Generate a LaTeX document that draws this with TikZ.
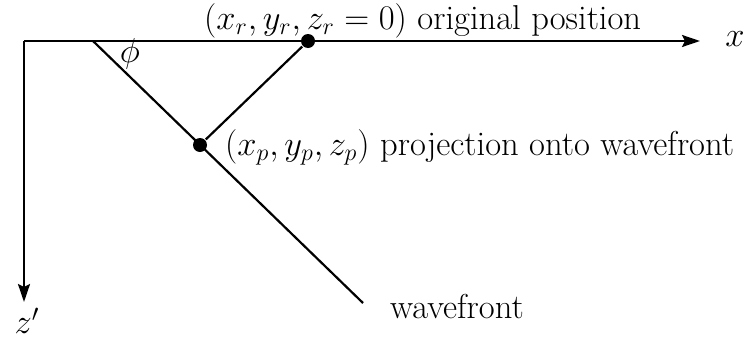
\documentclass[tikz,border=0pt]{standalone}
\usetikzlibrary{arrows.meta}
\begin{document}
\begin{tikzpicture}[x=0.5pt,y=-0.5pt,>={Stealth[length=9pt,width=6pt,inset=1.5pt]},line width=1.1pt,
    lbl/.style={font=\LARGE,inner sep=0pt},
    pt/.style={circle,fill,inner sep=0pt,minimum size=7pt}]
    \useasboundingbox (0,0) rectangle (744,338);
    % axes
    \coordinate (A) at (24,41);
    \coordinate (xend) at (700,41);
    \coordinate (zend) at (24,302);
    \draw[->] (A) -- (xend);
    \draw[->] (A) -- (zend);
    \node[lbl] (xlab) at (735,39) {$x$};
    \node[lbl] (zlab) at (27,321) {$z'$};
    % wavefront
    \coordinate (O) at (93,41);
    \coordinate (W) at (363,303);
    \draw (O) -- (W);
    \node[lbl] (phi) at (130,54) {$\phi$};
    \node[lbl,anchor=base west] (wf) at (389,318) {wavefront};
    % original and projected points
    \node[pt] (R) at (308,41) {};
    \node[pt] (P) at (200,145) {};
    \draw (R) -- (P);
    \node[lbl,anchor=base west] (Rlab) at (203,29) {$(x_r, y_r, z_r = 0)$ original position};
    \node[lbl,anchor=base west] (Plab) at (224,155) {$(x_p, y_p, z_p)$ projection onto wavefront};
\end{tikzpicture}
\end{document}
